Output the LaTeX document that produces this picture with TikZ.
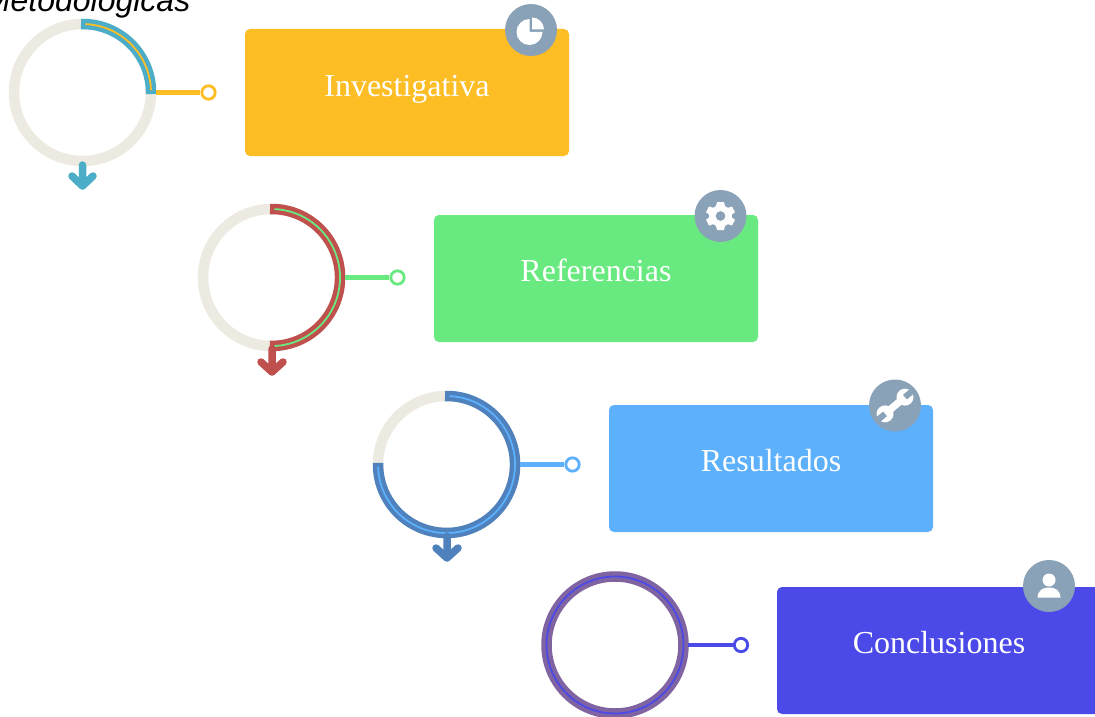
\documentclass[tikz,border=0pt]{standalone}
\usepackage{fontspec}
\setmainfont{Liberation Serif}
\newfontfamily\headfont{Liberation Sans}
\definecolor{ringbg}{HTML}{EDEBE1}
\definecolor{cyel}{HTML}{FDBD24}
\definecolor{cgrn}{HTML}{69EA80}
\definecolor{cblu}{HTML}{5CB0FC}
\definecolor{cind}{HTML}{4B4AE8}
\definecolor{acyan}{HTML}{4BADC8}
\definecolor{ared}{HTML}{C0504D}
\definecolor{ablu}{HTML}{4F81BD}
\definecolor{apur}{HTML}{8064A2}
\definecolor{badge}{HTML}{8AA2B8}
\tikzset{
  x=1pt,y=-1pt,
  ringtrack/.style={draw=ringbg,line width=10.5pt,line cap=butt},
  ringarc/.style={line width=10.5pt,line cap=butt},
  ringline/.style={line width=1.8pt,line cap=butt},
  stem/.style={line width=4.5pt},
  endring/.style={circle,draw=#1,fill=white,line width=2.8pt,minimum size=13.4pt,inner sep=0pt},
  card/.style={fill=#1,rounded corners=5pt,minimum width=324pt,minimum height=127pt,inner sep=0pt,draw=none},
  cardtext/.style={text=white,font=\fontsize{32}{36}\selectfont,inner sep=0pt,anchor=base},
  badgedisc/.style={circle,fill=badge,minimum size=52pt,inner sep=0pt,draw=none},
  arrowmark/.style={draw=#1,line width=7.5pt,line cap=round,line join=round},
  icon/.style={fill=white,draw=none},
}
\begin{document}
\begin{tikzpicture}
\useasboundingbox (0,0) rectangle (1095,717);
\fill[white] (0,0) rectangle (1095,717);
% heading
\node[anchor=base east,inner sep=0pt,font=\headfont\itshape\fontsize{32}{34}\selectfont] (heading) at (190.5,12) {Metodologicas};
% ---- ring 1
\coordinate (c1) at (82.5,92.5);
\draw[ringtrack] (c1) circle[radius=68.5];
\draw[ringarc,draw=acyan] (81,24) arc[start angle=-91.3,end angle=1.3,radius=68.5];
\draw[ringline,draw=cyel] (85.5,24.1) arc[start angle=-87.5,end angle=-2,radius=68.5];
\node[card=cyel] (b1) at (407,92.5) {};
\node[cardtext] (t1) at (407,96) {Investigativa};
\node[endring=cyel] (e1) at (208.5,92.5) {};
\draw[stem,draw=cyel] (156,92.5) -- (e1);
\draw[arrowmark=acyan] (82.5,165) -- (82.5,185) (72,176) -- (82.5,186) -- (93,176);
\node[badgedisc] (i1) at (531,30) {};
% ---- ring 2
\coordinate (c2) at (271.5,277.5);
\draw[ringtrack] (c2) circle[radius=68.5];
\draw[ringarc,draw=ared] (270,209) arc[start angle=-91.3,end angle=91.3,radius=68.5];
\draw[ringline,draw=cgrn] (274.5,209.1) arc[start angle=-87.5,end angle=87.5,radius=68.5];
\node[card=cgrn] (b2) at (596,278.5) {};
\node[cardtext] (t2) at (596,281) {Referencias};
\node[endring=cgrn] (e2) at (397.5,277.5) {};
\draw[stem,draw=cgrn] (345,277.5) -- (e2);
\draw[arrowmark=ared] (272,349) -- (272,371) (261,362) -- (272,372) -- (283,362);
\node[badgedisc] (i2) at (720.5,216) {};
% ---- ring 3
\coordinate (c3) at (446.5,464.5);
\draw[ringtrack] (c3) circle[radius=68.5];
\draw[ringarc,draw=ablu] (445,396) arc[start angle=-91.3,end angle=181.3,radius=68.5];
\draw[ringline,draw=cblu] (449.5,396.1) arc[start angle=-87.5,end angle=178,radius=68.5];
\node[card=cblu] (b3) at (771,468.5) {};
\node[cardtext] (t3) at (771,471) {Resultados};
\node[endring=cblu] (e3) at (572.5,464.5) {};
\draw[stem,draw=cblu] (520,464.5) -- (e3);
\draw[arrowmark=ablu] (447,536) -- (447,558) (436,548) -- (447,558) -- (458,548);
\node[badgedisc] (i3) at (895,405.5) {};
% ---- ring 4
\coordinate (c4) at (615,645);
\draw[ringarc,draw=apur] (c4) circle[radius=68.5];
\draw[ringline,draw=cind] (c4) circle[radius=68.5];
\node[card=cind] (b4) at (939,650.5) {};
\node[cardtext] (t4) at (939,653) {Conclusiones};
\node[endring=cind] (e4) at (741,645) {};
\draw[stem,draw=cind] (688,645) -- (e4);
\node[badgedisc] (i4) at (1049,586) {};
% ---- icons
% pie
\fill[icon] (529.5,32) -- (529.5,19) arc[start angle=-90,end angle=-360,radius=13] -- cycle;
\fill[icon] (532,29.5) -- (532,17.5) arc[start angle=-90,end angle=0,radius=12] -- cycle;
% gear
\begin{scope}[shift={(720.5,216)}]
\fill[icon,even odd rule]
  (-3.5,-14) -- (3.5,-14) -- (4.5,-9.8) -- (7.5,-8.2) -- (11.5,-9.5) -- (14.5,-3.8) -- (11.4,-1.5) -- (11.4,1.5) -- (14.5,3.8) -- (11.5,9.5) -- (7.5,8.2) -- (4.5,9.8) -- (3.5,14) -- (-3.5,14) -- (-4.5,9.8) -- (-7.5,8.2) -- (-11.5,9.5) -- (-14.5,3.8) -- (-11.4,1.5) -- (-11.4,-1.5) -- (-14.5,-3.8) -- (-11.5,-9.5) -- (-7.5,-8.2) -- (-4.5,-9.8) -- cycle
  (0,0) circle[radius=5];
\end{scope}
% wrench
\begin{scope}[shift={(895,405.5)},rotate=40]
\fill[icon] (-12,-3.6) rectangle (12,3.6);
\fill[icon] (13,0) circle[radius=8.5];
\fill[icon] (-13,0) circle[radius=8.5];
\fill[badge] (13,-3) rectangle (23,3);
\fill[badge] (-13,-3) rectangle (-23,3);
\end{scope}
% person
\fill[icon] (1049,580) circle[radius=6.5];
\fill[icon] (1037.5,597.5) .. controls (1038,590) and (1043,587.5) .. (1049,587.5) .. controls (1055,587.5) and (1060,590) .. (1060.5,597.5) -- cycle;
\end{tikzpicture}
\end{document}
